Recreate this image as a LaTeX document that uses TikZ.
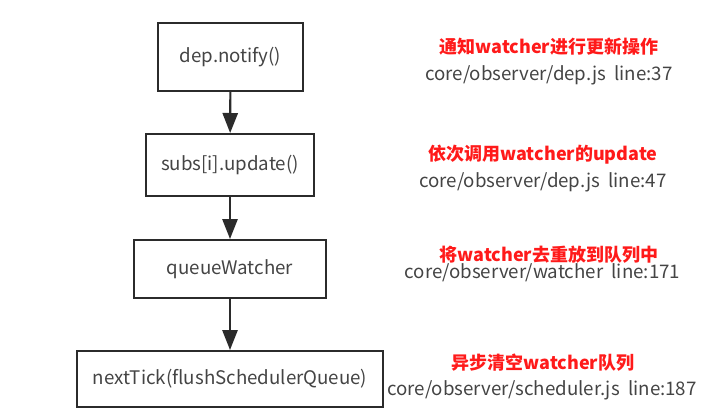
\documentclass[tikz,border=0pt]{standalone}
\usepackage{fontspec}
\setmainfont{Noto Sans CJK SC}
\usepackage{xcolor}
\usepackage{tikz}
\usetikzlibrary{shapes,arrows.meta,positioning}
\definecolor{boxline}{HTML}{2B2B2B}
\definecolor{txtgray}{HTML}{444444}
\definecolor{notered}{HTML}{FF1A1A}
\tikzstyle{step box} = [draw=boxline, line width=1.4pt, rectangle, text=txtgray, font=\fontsize{13.3}{15}\selectfont]
\tikzstyle{arrow} = [draw=boxline, line width=1.5pt, -{Triangle[width=0.38cm,length=0.5cm]}]
\tikzstyle{note} = [text=notered, font=\fontsize{12.8}{15}\selectfont\bfseries]
\tikzstyle{path} = [text=txtgray, font=\fontsize{13.3}{15}\selectfont]

\begin{document}
\begin{tikzpicture}[x=0.025cm, y=-0.025cm]
  \useasboundingbox (0,0) rectangle (718,420);
  % flow boxes
  \node[step box, minimum width=3.625cm, minimum height=1.7cm] (notify) at (230.5,57) {dep.notify()};
  \node[step box, minimum width=4.2cm, minimum height=1.55cm] (update) at (230,165) {subs[i].update()};
  \node[step box, minimum width=4.8cm, minimum height=1.45cm] (queue) at (230,269) {queueWatcher};
  \node[step box, minimum width=7.65cm, minimum height=1.4cm] (tick) at (230,379) {nextTick(flushSchedulerQueue)};
  \draw[arrow] (notify) -- (update);
  \draw[arrow] (update) -- (queue);
  \draw[arrow] (queue) -- (tick);
  % notes
  \node[note] (n1) at (549,47) {通知watcher进行更新操作};
  \node[path] (p1) at (549,75) {core/observer/dep.js\ \ line:37};
  \node[note] (n2) at (543,155) {依次调用watcher的update};
  \node[path] (p2) at (543,182) {core/observer/dep.js\ \ line:47};
  \node[note] (n3) at (549,255) {将watcher去重放到队列中};
  \node[path] (p3) at (542.5,273) {core/observer/watcher\ \ line:171};
  \node[note] (n4) at (543,363) {异步清空watcher队列};
  \node[path] (p4) at (542,390) {core/observer/scheduler.js\ \ line:187};
\end{tikzpicture}
\end{document}
